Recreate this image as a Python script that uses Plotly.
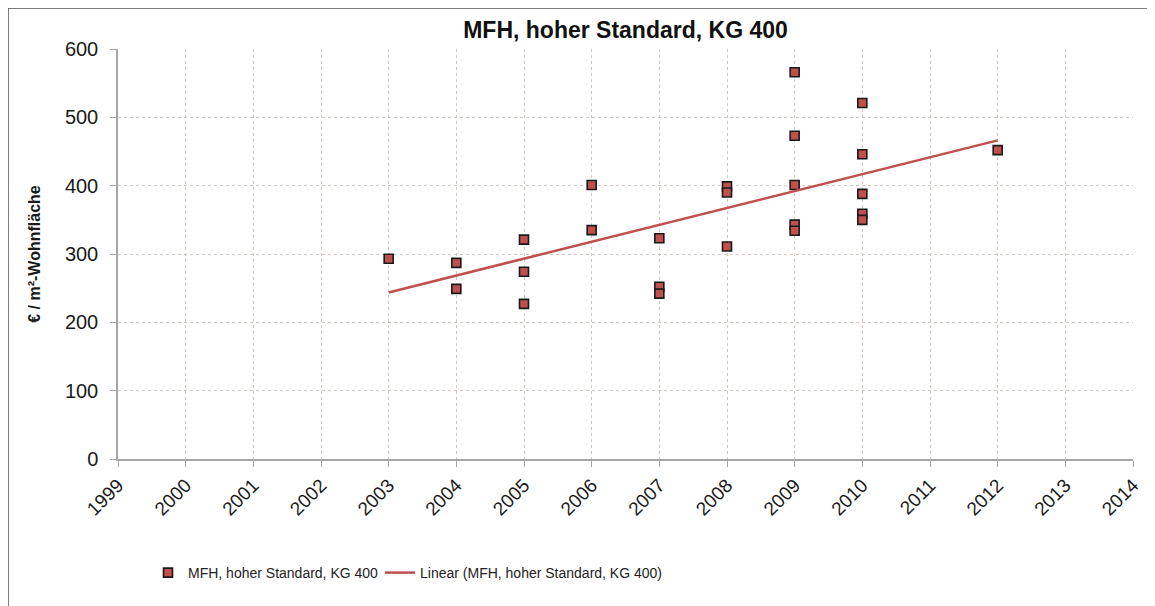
import numpy as np
import plotly.graph_objects as go

years = [2003, 2004, 2004, 2005, 2005, 2005, 2006, 2006, 2007, 2007, 2007,
         2008, 2008, 2008, 2009, 2009, 2009, 2009, 2009,
         2010, 2010, 2010, 2010, 2010, 2012]
costs = [293, 287, 249, 321, 274, 227, 401, 335, 323, 252, 242,
         399, 390, 311, 566, 473, 401, 343, 334,
         521, 446, 388, 359, 350, 452]

series_name = "MFH, hoher Standard, KG 400"
trend_name = "Linear (MFH, hoher Standard, KG 400)"
title_text = "MFH, hoher Standard, KG 400"
y_title = "€ / m²-Wohnfläche"

slope, intercept = np.polyfit(years, costs, 1)
trend_x = [min(years), max(years)]
trend_y = [slope * x + intercept for x in trend_x]

marker_color = "#c0504d"
line_color = "#c0504d"
grid_color = "#d3c6be"
axis_color = "#a6a6a6"
font_family = "Liberation Sans, Arial, sans-serif"

L, R, T, B = 110, 30, 41, 155
W, H = 1155, 606
pw = W - L - R
ph = H - T - B

fig = go.Figure()
fig.add_trace(go.Scatter(
    x=years, y=costs, mode="markers", name=series_name, legend="legend",
    marker=dict(symbol="square", size=9, color=marker_color,
                line=dict(color="#1a1a1a", width=1.6)),
))
fig.add_trace(go.Scatter(
    x=trend_x, y=trend_y, mode="lines", name=trend_name, legend="legend2",
    line=dict(color=line_color, width=2.5),
))

legend_y = (H - B - 565) / ph
legend_common = dict(orientation="h", y=legend_y, xanchor="left", yanchor="middle",
                     font=dict(size=14, color="#222222"),
                     bgcolor="rgba(0,0,0,0)")

fig.update_layout(
    width=W, height=H,
    paper_bgcolor="white", plot_bgcolor="white",
    margin=dict(l=L, r=R, t=T, b=B),
    font=dict(family=font_family, color="#1a1a1a"),
    title=dict(text="<b>" + title_text + "</b>", x=(L + pw / 2) / W, xanchor="center",
               y=1 - 22 / H, yanchor="middle", font=dict(size=23, color="#111111")),
    showlegend=True,
    legend=dict(x=(140 - L) / pw, **legend_common),
    legend2=dict(x=(372 - L) / pw, **legend_common),
    xaxis=dict(range=[1999, 2014], dtick=1, tick0=1999, tickangle=-45,
               showgrid=True, gridcolor=grid_color, griddash="dot", gridwidth=1,
               showline=True, linecolor=axis_color, linewidth=1.5,
               ticks="outside", ticklen=6, tickcolor=axis_color,
               tickfont=dict(size=19, color="#1a1a1a"), zeroline=False, fixedrange=True),
    yaxis=dict(range=[0, 600], dtick=100, tick0=0,
               showgrid=True, gridcolor=grid_color, griddash="dot", gridwidth=1,
               showline=True, linecolor=axis_color, linewidth=1.5,
               ticks="outside", ticklen=6, tickcolor=axis_color,
               ticklabelstandoff=8,
               tickfont=dict(size=20, color="#1a1a1a"), zeroline=False,
               title=dict(text="<b>" + y_title + "</b>", font=dict(size=16), standoff=20),
               fixedrange=True),
    shapes=[dict(type="rect", xref="paper", yref="paper",
                 x0=-L / pw, x1=1.2, y0=-0.6, y1=1 + T / ph,
                 line=dict(color="#555555", width=1.5), fillcolor="rgba(0,0,0,0)",
                 layer="below")],
)

fig.write_html("out.html")
